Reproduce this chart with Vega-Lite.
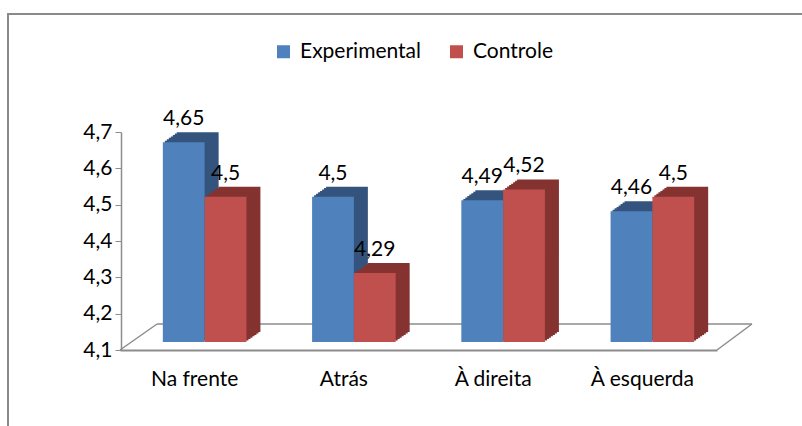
{
  "$schema": "https://vega.github.io/schema/vega-lite/v6.json",
  "width": 800,
  "height": 420,
  "autosize": {"type": "none"},
  "padding": {"left": 8, "top": 14, "right": 0, "bottom": 0},
  "config": {
    "locale": {"number": {"decimal": ",", "thousands": ".", "grouping": [3], "currency": ["R$", ""]}},
    "view": {"stroke": "#8a8a8a", "strokeWidth": 2},
    "font": "Lato",
    "axis": {"grid": false, "domainColor": "#8c8c8c", "tickColor": "#8c8c8c", "labelColor": "#000000", "labelFont": "Lato", "labelFontSize": 21}
  },
  "resolve": {"scale": {"xOffset": "independent"}},
  "data": {"values": [
    {"categoria": "Na frente", "grupo": "Experimental", "valor": 4.65},
    {"categoria": "Na frente", "grupo": "Controle", "valor": 4.5},
    {"categoria": "Atrás", "grupo": "Experimental", "valor": 4.5},
    {"categoria": "Atrás", "grupo": "Controle", "valor": 4.29},
    {"categoria": "À direita", "grupo": "Experimental", "valor": 4.49},
    {"categoria": "À direita", "grupo": "Controle", "valor": 4.52},
    {"categoria": "À esquerda", "grupo": "Experimental", "valor": 4.46},
    {"categoria": "À esquerda", "grupo": "Controle", "valor": 4.5}
  ]},
  "layer": [
    {
      "data": {"values": [{}]},
      "mark": {"type": "rule", "stroke": "#8c8c8c", "strokeWidth": 1.5, "yOffset": -26, "xOffset": -37.6, "x2Offset": 109.6},
      "encoding": {
        "x": {"datum": "Na frente", "type": "nominal", "scale": {"type": "band", "domain": ["Na frente", "Atrás", "À direita", "À esquerda"], "range": [112, 709], "paddingInner": 0.44, "paddingOuter": 0.22}, "axis": {"orient": "bottom", "offset": -84, "title": null, "ticks": false, "tickSize": 0, "domainWidth": 2, "labelPadding": 18, "labelAngle": 0}},
        "x2": {"datum": "À esquerda"},
        "y": {"datum": 4.1, "type": "quantitative", "scale": {"domain": [4.1, 4.7], "range": [336, 118], "zero": false, "nice": false}, "axis": {"orient": "left", "offset": -113, "title": null, "values": [4.1, 4.2, 4.3, 4.4, 4.5, 4.6, 4.7], "format": ".1f", "tickSize": 6, "labelPadding": 3, "domainWidth": 1.5}}
      }
    },
    {
      "data": {"values": [{}]},
      "mark": {"type": "rule", "stroke": "#8c8c8c", "strokeWidth": 1.5, "xOffset": -74.6, "x2Offset": -37.6, "y2Offset": -26},
      "encoding": {
        "x": {"datum": "Na frente", "type": "nominal"},
        "x2": {"datum": "Na frente"},
        "y": {"datum": 4.1, "type": "quantitative"},
        "y2": {"datum": 4.1}
      }
    },
    {
      "data": {"values": [{}]},
      "mark": {"type": "rule", "stroke": "#8c8c8c", "strokeWidth": 1.5, "xOffset": 74.6, "x2Offset": 109.6, "y2Offset": -26},
      "encoding": {
        "x": {"datum": "À esquerda", "type": "nominal"},
        "x2": {"datum": "À esquerda"},
        "y": {"datum": 4.1, "type": "quantitative"},
        "y2": {"datum": 4.1}
      }
    },
    {
      "mark": {"type": "bar", "yOffset": -18, "y2Offset": -18},
      "encoding": {
        "x": {"field": "categoria", "type": "nominal", "sort": null},
        "xOffset": {"field": "grupo", "type": "nominal", "scale": {"domain": ["Experimental", "Controle"], "range": [24, 107.58], "paddingInner": 0, "paddingOuter": 0}},
        "y": {"field": "valor", "type": "quantitative"},
        "y2": {"datum": 4.1},
        "fill": {"condition": {"test": "datum.grupo === 'Experimental'", "value": "#34547e"}, "value": "#853331"}
      }
    },
    {
      "mark": {"type": "bar", "yOffset": -16.6, "y2Offset": -16.6},
      "encoding": {
        "x": {"field": "categoria", "type": "nominal", "sort": null},
        "xOffset": {"field": "grupo", "type": "nominal", "scale": {"domain": ["Experimental", "Controle"], "range": [22, 105.58], "paddingInner": 0, "paddingOuter": 0}},
        "y": {"field": "valor", "type": "quantitative"},
        "y2": {"datum": 4.1},
        "fill": {"condition": {"test": "datum.grupo === 'Experimental'", "value": "#34547e"}, "value": "#853331"}
      }
    },
    {
      "mark": {"type": "bar", "yOffset": -15.1, "y2Offset": -15.1},
      "encoding": {
        "x": {"field": "categoria", "type": "nominal", "sort": null},
        "xOffset": {"field": "grupo", "type": "nominal", "scale": {"domain": ["Experimental", "Controle"], "range": [20, 103.58], "paddingInner": 0, "paddingOuter": 0}},
        "y": {"field": "valor", "type": "quantitative"},
        "y2": {"datum": 4.1},
        "fill": {"condition": {"test": "datum.grupo === 'Experimental'", "value": "#34547e"}, "value": "#853331"}
      }
    },
    {
      "mark": {"type": "bar", "yOffset": -13.7, "y2Offset": -13.7},
      "encoding": {
        "x": {"field": "categoria", "type": "nominal", "sort": null},
        "xOffset": {"field": "grupo", "type": "nominal", "scale": {"domain": ["Experimental", "Controle"], "range": [18, 101.58], "paddingInner": 0, "paddingOuter": 0}},
        "y": {"field": "valor", "type": "quantitative"},
        "y2": {"datum": 4.1},
        "fill": {"condition": {"test": "datum.grupo === 'Experimental'", "value": "#34547e"}, "value": "#853331"}
      }
    },
    {
      "mark": {"type": "bar", "yOffset": -12.3, "y2Offset": -12.3},
      "encoding": {
        "x": {"field": "categoria", "type": "nominal", "sort": null},
        "xOffset": {"field": "grupo", "type": "nominal", "scale": {"domain": ["Experimental", "Controle"], "range": [16, 99.58], "paddingInner": 0, "paddingOuter": 0}},
        "y": {"field": "valor", "type": "quantitative"},
        "y2": {"datum": 4.1},
        "fill": {"condition": {"test": "datum.grupo === 'Experimental'", "value": "#34547e"}, "value": "#853331"}
      }
    },
    {
      "mark": {"type": "bar", "yOffset": -10.9, "y2Offset": -10.9},
      "encoding": {
        "x": {"field": "categoria", "type": "nominal", "sort": null},
        "xOffset": {"field": "grupo", "type": "nominal", "scale": {"domain": ["Experimental", "Controle"], "range": [14, 97.58], "paddingInner": 0, "paddingOuter": 0}},
        "y": {"field": "valor", "type": "quantitative"},
        "y2": {"datum": 4.1},
        "fill": {"condition": {"test": "datum.grupo === 'Experimental'", "value": "#34547e"}, "value": "#853331"}
      }
    },
    {
      "mark": {"type": "bar", "yOffset": -9.4, "y2Offset": -9.4},
      "encoding": {
        "x": {"field": "categoria", "type": "nominal", "sort": null},
        "xOffset": {"field": "grupo", "type": "nominal", "scale": {"domain": ["Experimental", "Controle"], "range": [12, 95.58], "paddingInner": 0, "paddingOuter": 0}},
        "y": {"field": "valor", "type": "quantitative"},
        "y2": {"datum": 4.1},
        "fill": {"condition": {"test": "datum.grupo === 'Experimental'", "value": "#34547e"}, "value": "#853331"}
      }
    },
    {
      "mark": {"type": "bar", "yOffset": -8, "y2Offset": -8},
      "encoding": {
        "x": {"field": "categoria", "type": "nominal", "sort": null},
        "xOffset": {"field": "grupo", "type": "nominal", "scale": {"domain": ["Experimental", "Controle"], "range": [10, 93.58], "paddingInner": 0, "paddingOuter": 0}},
        "y": {"field": "valor", "type": "quantitative"},
        "y2": {"datum": 4.1},
        "color": {"field": "grupo", "type": "nominal", "scale": {"domain": ["Experimental", "Controle"], "range": ["#4f81bd", "#c0504d"]}, "legend": {"orient": "none", "legendX": 265, "legendY": 27, "direction": "horizontal", "title": null, "symbolType": "square", "symbolSize": 169, "symbolStrokeWidth": 0, "labelFont": "Lato", "labelFontSize": 21, "labelColor": "#000000", "labelOffset": 6, "columnPadding": 25}}
      }
    },
    {
      "mark": {"type": "text", "yOffset": -25, "baseline": "alphabetic", "align": "center", "font": "Lato", "fontSize": 21, "color": "#000000"},
      "encoding": {
        "x": {"field": "categoria", "type": "nominal", "sort": null},
        "xOffset": {"field": "grupo", "type": "nominal", "scale": {"domain": ["Experimental", "Controle"], "range": [30.9, 72.69], "padding": 0}},
        "y": {"field": "valor", "type": "quantitative"},
        "text": {"field": "valor", "type": "quantitative", "format": "~g"}
      }
    }
  ]
}
